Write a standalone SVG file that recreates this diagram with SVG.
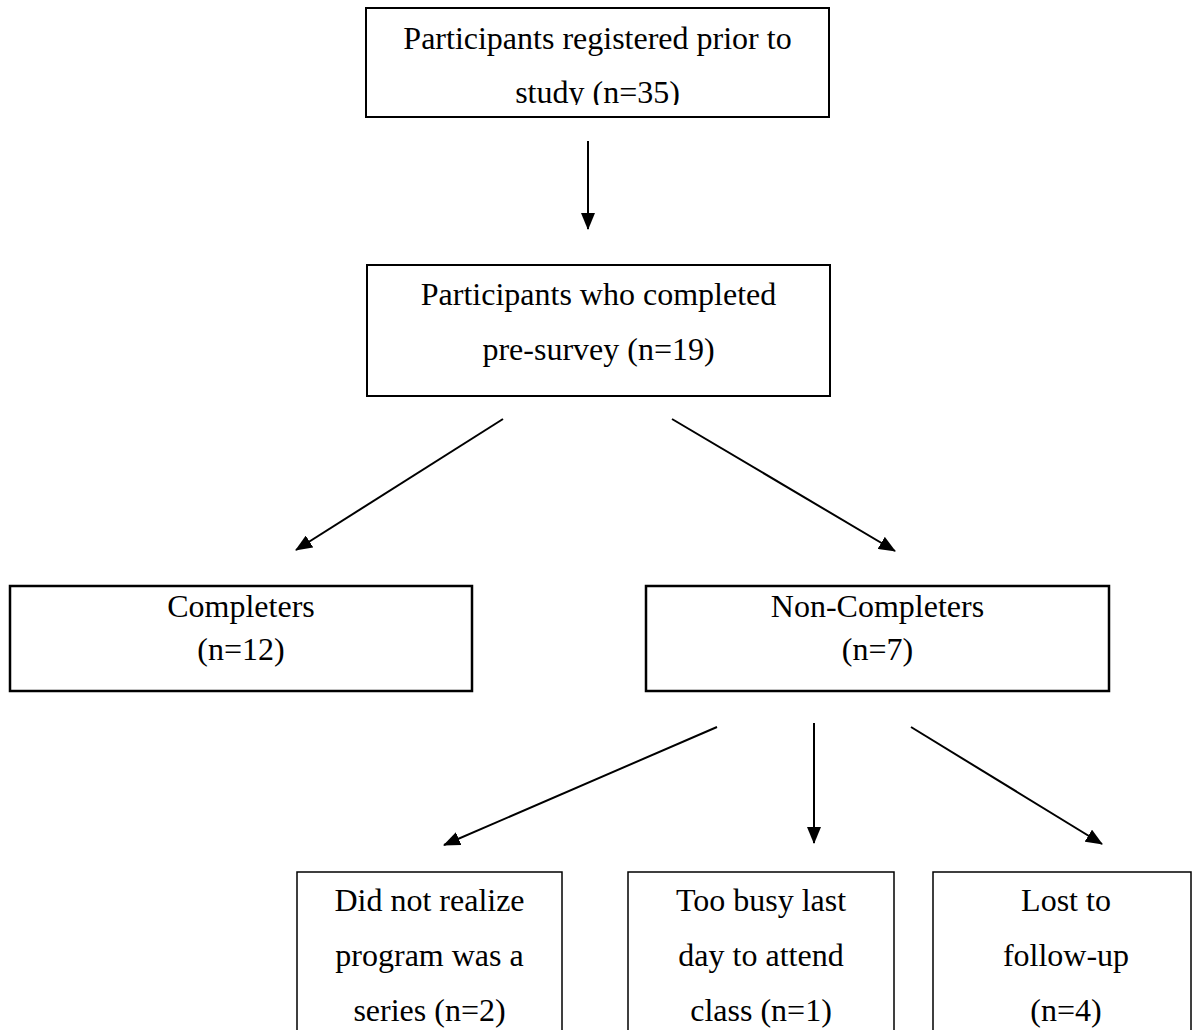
<svg xmlns="http://www.w3.org/2000/svg" width="1193" height="1030" viewBox="0 0 1193 1030">
<style>
  .box { fill: #fff; stroke: #000; }
  .t { font-family: "Liberation Serif", "Times New Roman", serif; font-size: 32px; fill: #000; text-anchor: middle; }
  .conn { stroke: #000; stroke-width: 2; fill: none; marker-end: url(#ah); }
</style>
<defs>
  <marker id="ah" viewBox="0 0 17 14" refX="16" refY="7" markerWidth="17" markerHeight="14" markerUnits="userSpaceOnUse" orient="auto">
    <path d="M0,0 L17,7 L0,14 Z" fill="#000"/>
  </marker>
  <clipPath id="c1"><rect x="366" y="8" width="463" height="97"/></clipPath>
</defs>
<rect width="1193" height="1030" fill="#fff"/>

<g id="registered">
  <rect class="box" x="366" y="8" width="463" height="109" stroke-width="2"/>
  <g clip-path="url(#c1)">
    <text class="t" x="597.5" y="49">Participants registered prior to</text>
    <text class="t" x="597.5" y="103">study (n=35)</text>
  </g>
</g>

<g id="presurvey">
  <rect class="box" x="367" y="265" width="463" height="131" stroke-width="2"/>
  <text class="t" x="598.5" y="305">Participants who completed</text>
  <text class="t" x="598.5" y="360">pre-survey (n=19)</text>
</g>

<g id="completers">
  <rect class="box" x="10" y="586" width="462" height="105" stroke-width="2.5"/>
  <text class="t" x="241" y="617">Completers</text>
  <text class="t" x="241" y="660">(n=12)</text>
</g>

<g id="noncompleters">
  <rect class="box" x="646" y="586" width="463" height="105" stroke-width="2.5"/>
  <text class="t" x="877.5" y="617">Non-Completers</text>
  <text class="t" x="877.5" y="660">(n=7)</text>
</g>

<g id="didnotrealize">
  <rect class="box" x="297" y="872" width="265" height="170" stroke-width="1.5"/>
  <text class="t" x="429.5" y="911">Did not realize</text>
  <text class="t" x="429.5" y="966">program was a</text>
  <text class="t" x="429.5" y="1021">series (n=2)</text>
</g>

<g id="toobusy">
  <rect class="box" x="628" y="872" width="266" height="170" stroke-width="1.5"/>
  <text class="t" x="761" y="911">Too busy last</text>
  <text class="t" x="761" y="966">day to attend</text>
  <text class="t" x="761" y="1021">class (n=1)</text>
</g>

<g id="lost">
  <rect class="box" x="933" y="872" width="258" height="170" stroke-width="1.5"/>
  <text class="t" x="1066" y="911">Lost to</text>
  <text class="t" x="1066" y="966">follow-up</text>
  <text class="t" x="1066" y="1021">(n=4)</text>
</g>

<g id="connectors">
  <line class="conn" x1="588" y1="141" x2="588" y2="229"/>
  <line class="conn" x1="503" y1="419" x2="296" y2="550"/>
  <line class="conn" x1="672" y1="419" x2="895" y2="551"/>
  <line class="conn" x1="717" y1="727" x2="444" y2="845"/>
  <line class="conn" x1="814" y1="723" x2="814" y2="843"/>
  <line class="conn" x1="911" y1="727" x2="1102" y2="844"/>
</g>
</svg>
